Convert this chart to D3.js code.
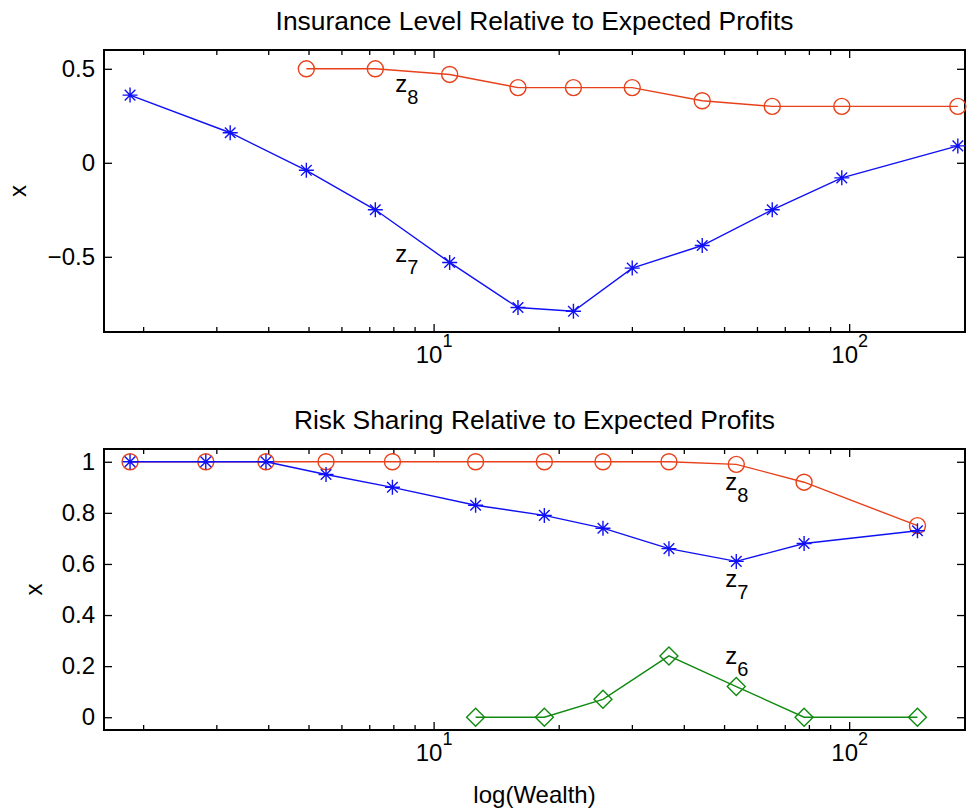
<!DOCTYPE html>
<meta charset="utf-8">
<style>
body { margin: 0; background: #fff; }
svg { font-family: "Liberation Sans", Arial, Helvetica, sans-serif; }
</style>
<svg width="967" height="812"></svg>
<script src="https://d3js.org/d3.v7.min.js"></script>
<script>

// top panel: insurance level
var topWealth = [1.86, 3.24, 4.94, 7.24, 10.93, 15.96, 21.7, 30.06, 44.3, 65.3, 96.0, 182.6];
var topZ8 = [null, null, 0.5, 0.5, 0.47, 0.4, 0.4, 0.4, 0.33, 0.3, 0.3, 0.3];
var topZ7 = [0.36, 0.16, -0.04, -0.25, -0.53, -0.77, -0.79, -0.56, -0.44, -0.25, -0.08, 0.09];

// bottom panel: risk sharing
var botWealth = [1.86, 2.83, 3.95, 5.51, 7.96, 12.62, 18.47, 25.56, 36.84, 53.5, 77.9, 146];
var botZ8 = [1, 1, 1, 1, 1, 1, 1, 1, 1, 0.99, 0.92, 0.75];
var botZ7 = [1, 1, 1, 0.95, 0.9, 0.83, 0.79, 0.74, 0.66, 0.61, 0.68, 0.73];
var botZ6 = [null, null, null, null, null, 0, 0, 0.07, 0.24, 0.12, 0, 0];

var topYTicks = [-0.5, 0, 0.5];
var botYTicks = [0, 0.2, 0.4, 0.6, 0.8, 1];
var xMajor = [10, 100];
var xMinor = [2, 3, 4, 5, 6, 7, 8, 9, 20, 30, 40, 50, 60, 70, 80, 90];

// series labels (z_n) in data coordinates
var topNotes = [{sub: "8", w: 8.09, v: 0.378}, {sub: "7", w: 8.09, v: -0.527}];
var botNotes = [{sub: "8", w: 50.3, v: 0.89}, {sub: "7", w: 50.3, v: 0.51}, {sub: "6", w: 50.3, v: 0.208}];

var red = "#e8401a", blue = "#1010f5", green = "#108a10";

var svg = d3.select("svg"),
    left = 104, right = 965;

var x = d3.scaleLog().domain([1.61, 190]).range([left, right]);

var panels = [
  {title: "Insurance Level Relative to Expected Profits", top: 50, bottom: 332, ydom: [-0.9, 0.6],
   yticks: topYTicks, wealth: topWealth, notes: topNotes, ylabX: 26,
   series: [{v: topZ8, color: red, mark: "circle"}, {v: topZ7, color: blue, mark: "star"}]},
  {title: "Risk Sharing Relative to Expected Profits", top: 449, bottom: 730, ydom: [-0.05, 1.05],
   yticks: botYTicks, wealth: botWealth, notes: botNotes, ylabX: 42,
   series: [{v: botZ8, color: red, mark: "circle"}, {v: botZ7, color: blue, mark: "star"}, {v: botZ6, color: green, mark: "diamond"}]}
];

var shapes = {
  star: "M-7.5,0H7.5M0,-7.5V7.5M-5.3,-5.3L5.3,5.3M-5.3,5.3L5.3,-5.3",
  diamond: "M0,-9L9,0L0,9L-9,0Z"
};

function fmtY(d) { return d3.format("")(d); }

panels.forEach(function(p) {
  var y = d3.scaleLinear().domain(p.ydom).range([p.bottom, p.top]);
  var g = svg.append("g");

  function styleAxis(a) {
    a.select(".domain").remove();
    a.selectAll(".tick line").attr("stroke", "#000").attr("stroke-width", 1.3);
    a.attr("font-family", null).attr("font-size", 24);
    a.selectAll(".tick text").attr("fill", "#000");
  }

  // y ticks left + right
  g.append("g").attr("transform", "translate(" + left + ",0)")
      .call(d3.axisLeft(y).tickValues(p.yticks).tickSize(-8).tickPadding(9).tickFormat(fmtY))
      .call(styleAxis);
  g.append("g").attr("transform", "translate(" + right + ",0)")
      .call(d3.axisRight(y).tickValues(p.yticks).tickSize(-8).tickFormat(""))
      .call(styleAxis);

  // x ticks: bottom/top, major and minor
  var xb = g.append("g").attr("transform", "translate(0," + p.bottom + ")")
      .call(d3.axisBottom(x).tickValues(xMajor).tickSize(-8).tickPadding(14).tickFormat(""))
      .call(styleAxis);
  xb.selectAll(".tick text").each(function(d) {
    var t = d3.select(this);
    t.append("tspan").text("10");
    t.append("tspan").attr("dy", -16).attr("font-size", 18).text(Math.round(Math.log10(d)));
  });
  g.append("g").attr("transform", "translate(0," + p.bottom + ")")
      .call(d3.axisBottom(x).tickValues(xMinor).tickSize(-5).tickFormat(""))
      .call(styleAxis);
  g.append("g").attr("transform", "translate(0," + p.top + ")")
      .call(d3.axisTop(x).tickValues(xMajor).tickSize(-8).tickFormat(""))
      .call(styleAxis);
  g.append("g").attr("transform", "translate(0," + p.top + ")")
      .call(d3.axisTop(x).tickValues(xMinor).tickSize(-5).tickFormat(""))
      .call(styleAxis);

  // box
  g.append("rect")
      .attr("x", left).attr("y", p.top)
      .attr("width", right - left).attr("height", p.bottom - p.top)
      .attr("fill", "none").attr("stroke", "#000").attr("stroke-width", 2);

  // title and y label
  g.append("text")
      .attr("x", (left + right) / 2).attr("y", p.top - 20)
      .attr("text-anchor", "middle").attr("font-size", 26.4)
      .text(p.title);
  g.append("text")
      .attr("transform", "translate(" + p.ylabX + "," + (p.top + p.bottom) / 2 + ") rotate(-90)")
      .attr("text-anchor", "middle").attr("font-size", 24)
      .text("x");

  // series
  p.series.forEach(function(s) {
    var pts = p.wealth.map(function(w, i) { return [w, s.v[i]]; })
        .filter(function(d) { return d[1] != null; });
    var line = d3.line()
        .x(function(d) { return x(d[0]); })
        .y(function(d) { return y(d[1]); });
    g.append("path")
        .attr("d", line(pts))
        .attr("fill", "none").attr("stroke", s.color).attr("stroke-width", 1.4);
    var m = g.append("g").selectAll("g")
      .data(pts)
      .enter().append("g")
        .attr("transform", function(d) { return "translate(" + x(d[0]) + "," + y(d[1]) + ")"; });
    if (s.mark == "circle") {
      m.append("circle").attr("r", 8)
          .attr("fill", "none").attr("stroke", s.color).attr("stroke-width", 1.4);
    } else {
      m.append("path").attr("d", shapes[s.mark])
          .attr("fill", "none").attr("stroke", s.color).attr("stroke-width", 1.4);
    }
  });

  // z labels
  var notes = g.selectAll("text.note")
    .data(p.notes)
    .enter().append("text")
      .attr("class", "note")
      .attr("x", function(d) { return x(d.w); })
      .attr("y", function(d) { return y(d.v); })
      .attr("font-size", 24);
  notes.append("tspan").text("z");
  notes.append("tspan").attr("dy", 12).attr("font-size", 20).text(function(d) { return d.sub; });
});

svg.append("text")
    .attr("x", (left + right) / 2).attr("y", 803)
    .attr("text-anchor", "middle").attr("font-size", 24)
    .text("log(Wealth)");

</script>
